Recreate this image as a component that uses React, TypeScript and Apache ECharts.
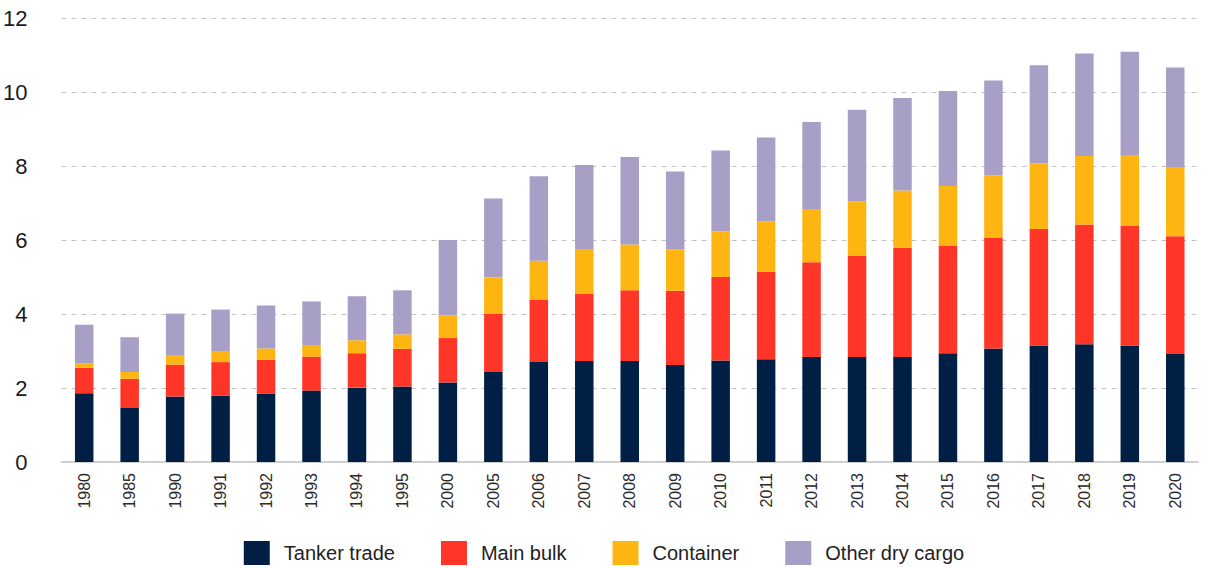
import React, { useEffect, useRef } from "react";
import * as echarts from "echarts";

const categories = ["1980","1985","1990","1991","1992","1993","1994","1995","2000","2005","2006","2007","2008","2009","2010","2011","2012","2013","2014","2015","2016","2017","2018","2019","2020"];
const tankerTrade = [1.86,1.46,1.77,1.79,1.84,1.93,2.01,2.04,2.15,2.43,2.70,2.73,2.73,2.62,2.74,2.78,2.84,2.84,2.84,2.94,3.07,3.15,3.18,3.15,2.92];
const mainBulk = [0.69,0.79,0.86,0.91,0.92,0.92,0.93,1.02,1.20,1.57,1.69,1.81,1.91,2.01,2.26,2.36,2.56,2.73,2.95,2.91,3.00,3.15,3.24,3.24,3.18];
const container = [0.12,0.18,0.26,0.28,0.31,0.31,0.35,0.39,0.61,0.99,1.05,1.22,1.24,1.12,1.24,1.36,1.42,1.48,1.55,1.61,1.68,1.77,1.85,1.89,1.85];
const otherDryCargo = [1.04,0.94,1.12,1.14,1.16,1.18,1.19,1.19,2.04,2.13,2.28,2.27,2.36,2.10,2.18,2.27,2.37,2.47,2.50,2.57,2.56,2.65,2.77,2.81,2.71];

const seriesNames = ["Tanker trade", "Main bulk", "Container", "Other dry cargo"];
const seriesColors = ["#001f45", "#ff3527", "#ffb511", "#a89fc6"];
const seriesData = [tankerTrade, mainBulk, container, otherDryCargo];

const FONT = "'Liberation Sans', Arial, sans-serif";

export default function App() {
  const ref = useRef<HTMLDivElement>(null);
  useEffect(() => {
    if (!ref.current) return;
    const chart = echarts.init(ref.current, null, { renderer: "svg" });
    chart.setOption({
      animation: false,
      backgroundColor: "#ffffff",
      grid: { left: 61, right: 10, top: 18, bottom: 106, containLabel: false },
      legend: {
        data: seriesNames,
        left: "center",
        top: 541,
        padding: 0,
        itemWidth: 26,
        itemHeight: 24,
        itemGap: 46,
        icon: "rect",
        textStyle: { fontFamily: FONT, fontSize: 20, color: "#222", padding: [0, 0, 0, 9] },
      },
      xAxis: {
        type: "category",
        data: categories,
        axisTick: { show: false },
        axisLine: { lineStyle: { color: "#d0d0d0", width: 2 } },
        axisLabel: { rotate: 90, margin: 11, fontFamily: FONT, fontSize: 16, color: "#2a2a2a" },
      },
      yAxis: {
        type: "value",
        min: 0,
        max: 12,
        interval: 2,
        axisLine: { show: false },
        axisTick: { show: false },
        splitLine: { lineStyle: { color: "#c4c4c4", width: 1, type: [5, 5] } },
        axisLabel: { margin: 34, fontFamily: FONT, fontSize: 22, color: "#1a1a1a" },
      },
      series: seriesNames.map((name, i) => ({
        name,
        type: "bar",
        stack: "total",
        barWidth: 18.5,
        data: seriesData[i],
        itemStyle: { color: seriesColors[i] },
      })),
    });
    return () => chart.dispose();
  }, []);
  return <div ref={ref} style={{ position: "fixed", left: 0, top: 0, width: 1208, height: 568 }} />;
}
